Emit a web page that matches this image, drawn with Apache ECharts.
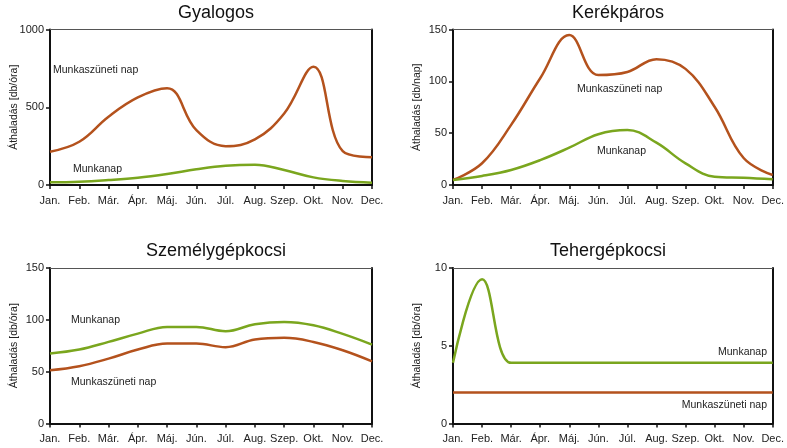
<!DOCTYPE html>
<html><head><meta charset="utf-8">
<script src="https://cdn.jsdelivr.net/npm/echarts@6/dist/echarts.min.js"></script>
<style>html,body{margin:0;padding:0;background:#fff}#c{width:787px;height:448px}</style>
</head><body><div id="c"></div>
<script>
const months = ['Jan.','Feb.','Már.','Ápr.','Máj.','Jún.','Júl.','Aug.','Szep.','Okt.','Nov.','Dec.'];
const titles = ['Gyalogos','Kerékpáros','Személygépkocsi','Tehergépkocsi'];
const yNames = ['Áthaladás [db/óra]','Áthaladás [db/nap]','Áthaladás [db/óra]','Áthaladás [db/óra]'];
const yMax = [1000,150,150,10];
const yInterval = [500,50,50,5];
// Munkaszüneti nap (holiday)
const gyalogosHoliday = [214,278,439,563,622,353,250,293,460,760,218,178];
const kerekparosHoliday = [4.8,21,58,103,144.6,106,109,121.4,112,75.5,26,9.6];
const szgkHoliday = [51.4,55.3,62.6,71.3,77.1,77.1,73.6,81,82.6,78.7,70.7,60];
const tgkHoliday = [2,2,2,2,2,2,2,2,2,2,2,2];
// Munkanap (workday)
const gyalogosWork = [17,21,32,47,71,101,124,131,96,49,26,15];
const kerekparosWork = [4.8,8.7,14.5,24,36,49,53,40.8,20.9,8,7,5.5];
const szgkWork = [67.5,71.3,78.7,86.7,93.2,93.2,89,95.7,98,94.8,86.4,76.1];
const tgkWork = [3.9,9.27,3.9,3.9,3.9,3.9,3.9,3.9,3.9,3.9,3.9,3.9];

const holiday = [gyalogosHoliday,kerekparosHoliday,szgkHoliday,tgkHoliday];
const work = [gyalogosWork,kerekparosWork,szgkWork,tgkWork];

const BROWN = '#b4521d', GREEN = '#7aa61e';
const FONT = 'Liberation Sans, Arial, sans-serif';
const grids = [
  {left:50, right:415, top:29.5, bottom:263},
  {left:453, right:13, top:29.5, bottom:263},
  {left:50, right:415, top:268, bottom:24.5},
  {left:453, right:13, top:268, bottom:24.5}
];
const titlePos = [[211,-1],[613,-1],[211,237],[603,237]];

const option = {animation:false, textStyle:{fontFamily:FONT}, title:[], grid:[], xAxis:[], yAxis:[], series:[], graphic:[]};
for (let i=0;i<4;i++){
  option.title.push({text:titles[i], left:titlePos[i][0], top:titlePos[i][1], textAlign:'center',
    textStyle:{fontFamily:FONT, fontSize:18, fontWeight:'normal', color:'#111'}});
  option.grid.push(Object.assign({containLabel:false}, grids[i]));
  option.xAxis.push({type:'category', gridIndex:i, data:months, boundaryGap:false,
    axisLine:{onZero:false, lineStyle:{color:'#111', width:2}},
    axisTick:{show:true, length:4, lineStyle:{color:'#111', width:1.5}, alignWithLabel:true},
    axisLabel:{color:'#222', fontSize:11, margin:10, interval:0, fontFamily:FONT},
    splitLine:{show:false}});
  option.xAxis.push({type:'category', gridIndex:i, data:months, boundaryGap:false, position:'top',
    axisLine:{show:true, onZero:false, lineStyle:{color:'#555', width:1}}, axisTick:{show:false}, axisLabel:{show:false}});
  option.yAxis.push({type:'value', gridIndex:i, min:0, max:yMax[i], interval:yInterval[i],
    name:yNames[i], nameLocation:'middle', nameGap:30, nameMoveOverlap:false,
    nameTextStyle:{fontSize:10.5, color:'#222', fontFamily:FONT},
    axisLine:{show:true, onZero:false, lineStyle:{color:'#111', width:2}},
    axisTick:{show:true, length:4, lineStyle:{color:'#111', width:1.5}},
    axisLabel:{color:'#222', fontSize:11, margin:6, fontFamily:FONT, formatter:v=>String(v)},
    splitLine:{show:false}});
  option.yAxis.push({type:'value', gridIndex:i, min:0, max:yMax[i], position:'right',
    axisLine:{show:true, onZero:false, lineStyle:{color:'#111', width:2}}, axisTick:{show:false}, axisLabel:{show:false}, splitLine:{show:false}});
  option.series.push({type:'line', xAxisIndex:2*i, yAxisIndex:2*i, data:holiday[i], smooth:0.4, symbol:'none',
    lineStyle:{color:BROWN, width:2.5}, z:3});
  option.series.push({type:'line', xAxisIndex:2*i, yAxisIndex:2*i, data:work[i], smooth:0.4, symbol:'none',
    lineStyle:{color:GREEN, width:2.5}, z:3});
}
const labels = [
  ['Munkaszüneti nap',53,70,'left'],['Munkanap',73,169,'left'],
  ['Munkaszüneti nap',577,89,'left'],['Munkanap',597,151,'left'],
  ['Munkanap',71,320,'left'],['Munkaszüneti nap',71,382,'left'],
  ['Munkanap',767,352,'right'],['Munkaszüneti nap',767,405,'right']
];
labels.forEach(l=>option.graphic.push({type:'text', x:l[1], y:l[2],
  style:{text:l[0], fill:'#222', fontSize:10.5, fontFamily:FONT, textAlign:l[3], textVerticalAlign:'middle'}, z:10}));
echarts.init(document.getElementById('c')).setOption(option);
</script></body></html>
